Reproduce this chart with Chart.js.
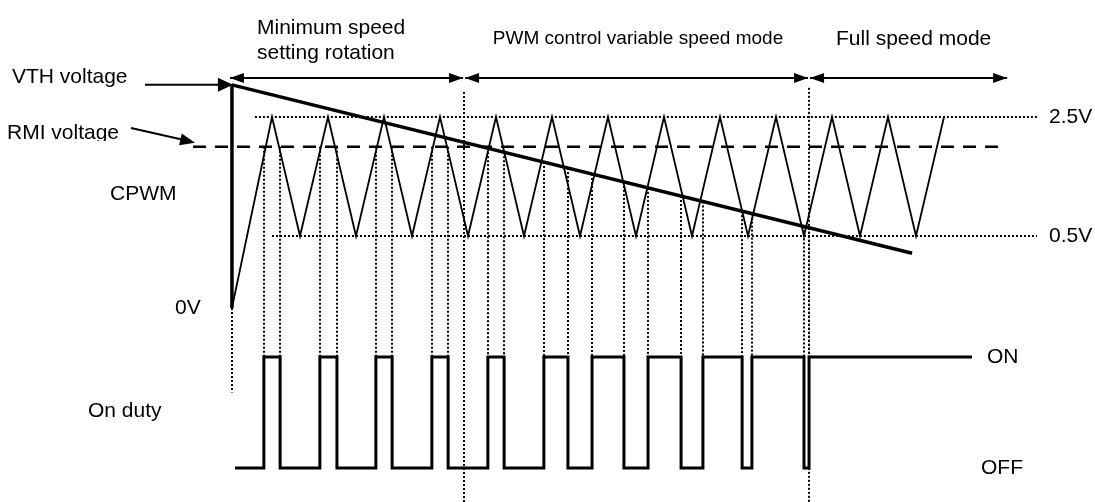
<!DOCTYPE html>
<html>
<head>
<meta charset="utf-8">
<script src="https://cdn.jsdelivr.net/npm/chart.js@4.4.0/dist/chart.umd.min.js"></script>
<style>
  body { margin: 0; background: #fff; }
  #wrap { width: 1095px; height: 502px; }
</style>
</head>
<body>
<div id="wrap"><canvas id="timing" width="1095" height="502"></canvas></div>
<script>
// time unit = half a CPWM period, t = 0 at the first valley
const cpwmTimes = [-2.43, -1, 0, 1, 2, 3, 4, 5, 6, 7, 8, 9, 10, 11, 12, 13, 14, 15, 16, 17, 18, 19, 20, 21, 22, 23];
const cpwmVolts = [-0.71, 2.5, 0.5, 2.5, 0.5, 2.5, 0.5, 2.5, 0.5, 2.5, 0.5, 2.5, 0.5, 2.5, 0.5, 2.5, 0.5, 2.5, 0.5, 2.5, 0.5, 2.5, 0.5, 2.5, 0.5, 2.5];

const vthTimes = [-2.43, 21.86];
const vthVolts = [3.04, 0.21];

const rmiTimes = [-3.82, 25.25];
const rmiVolt = 2.0;

const highRefTimes = [-1.61, 26.32];   // 2.5V dotted
const lowRefTimes = [-1, 26.32];       // 0.5V dotted

const dutyTimes = [-2.32, -1.29, -0.71, 0.71, 1.32, 2.71, 3.29, 4.71, 5.29, 6.71, 7.29, 8.71, 9.57, 10.43, 11.57, 12.43, 13.61, 14.39, 15.79, 16.14, 18.0, 18.18, 24.0];
const dutyLevels = [0, 1, 0, 1, 0, 1, 0, 1, 0, 1, 0, 1, 0, 1, 0, 1, 0, 1, 0, 1, 0, 1, 1];

const regionEdges = [-2.43, 5.86, 18.18, 25.29];
const regionTop = [2.92, 2.99];   // volts where the region dividers start

const pts = (xs, ys) => xs.map((x, i) => ({ x: x, y: Array.isArray(ys) ? ys[i] : ys }));

const vthAt = (t) => {
  const k = (t - vthTimes[0]) / (vthTimes[1] - vthTimes[0]);
  return vthVolts[0] + k * (vthVolts[1] - vthVolts[0]);
};

function arrowHead(ctx, tipX, tipY, fromX, fromY, len, half) {
  const d = Math.hypot(tipX - fromX, tipY - fromY);
  const ux = (tipX - fromX) / d, uy = (tipY - fromY) / d;
  ctx.beginPath();
  ctx.moveTo(tipX, tipY);
  ctx.lineTo(tipX - ux * len - uy * half, tipY - uy * len + ux * half);
  ctx.lineTo(tipX - ux * len + uy * half, tipY - uy * len - ux * half);
  ctx.closePath();
  ctx.fill();
}

function arrowLine(ctx, x1, y1, x2, y2, both) {
  ctx.beginPath();
  ctx.moveTo(x1, y1);
  ctx.lineTo(x2, y2);
  ctx.stroke();
  arrowHead(ctx, x2, y2, x1, y1, 14, 5);
  if (both) arrowHead(ctx, x1, y1, x2, y2, 14, 5);
}

const annotations = {
  id: 'annotations',
  afterDatasetsDraw(chart) {
    const { ctx, scales } = chart;
    const x = scales.x, yV = scales.yV, yD = scales.yD;
    ctx.save();
    ctx.strokeStyle = '#000';
    ctx.fillStyle = '#000';

    // dotted guides from the comparison point down to the ON level
    ctx.lineWidth = 2;
    ctx.setLineDash([2, 2]);
    for (let i = 1; i < dutyTimes.length - 1; i++) {
      const t = dutyTimes[i];
      const v = Math.min(rmiVolt, vthAt(t));
      const px = Math.round(x.getPixelForValue(t));
      ctx.beginPath();
      ctx.moveTo(px, yV.getPixelForValue(v));
      ctx.lineTo(px, yD.getPixelForValue(1));
      ctx.stroke();
    }
    // start marker
    let sx = Math.round(x.getPixelForValue(cpwmTimes[0]));
    ctx.beginPath();
    ctx.moveTo(sx, yV.getPixelForValue(cpwmVolts[0]));
    ctx.lineTo(sx, yD.getPixelForValue(0.68));
    ctx.stroke();
    // region dividers
    [1, 2].forEach((k, j) => {
      const px = Math.round(x.getPixelForValue(regionEdges[k]));
      ctx.beginPath();
      ctx.moveTo(px, yV.getPixelForValue(regionTop[j]));
      ctx.lineTo(px, chart.chartArea.bottom);
      ctx.stroke();
    });
    ctx.setLineDash([]);

    // region arrows
    const rowY = 78;
    ctx.lineWidth = 2;
    for (let i = 0; i < 3; i++) {
      const a = x.getPixelForValue(regionEdges[i]) + (i ? 1 : -2);
      const b = x.getPixelForValue(regionEdges[i + 1]) - 1;
      arrowLine(ctx, a, rowY, b, rowY, true);
    }

    // pointers for VTH / RMI
    ctx.lineWidth = 2;
    const vx = x.getPixelForValue(vthTimes[0]) + 1, vy = yV.getPixelForValue(vthVolts[0]);
    ctx.beginPath(); ctx.moveTo(145, vy); ctx.lineTo(vx - 10, vy); ctx.stroke();
    arrowHead(ctx, vx, vy, 145, vy, 15, 7);
    const rx = x.getPixelForValue(rmiTimes[0]) + 2, ry = yV.getPixelForValue(rmiVolt) - 4;
    ctx.beginPath(); ctx.moveTo(131, 128); ctx.lineTo(rx - 12, ry - 3); ctx.stroke();
    arrowHead(ctx, rx, ry, 131, 128, 15, 6);

    // text
    ctx.textBaseline = 'middle';
    ctx.textAlign = 'left';
    ctx.font = '21px "Liberation Sans", Arial, sans-serif';
    ctx.fillText('Minimum speed', 257, 28);
    ctx.fillText('setting rotation', 257, 53);
    ctx.fillText('Full speed mode', 836, 39);
    ctx.fillText('VTH voltage', 12, 77);
    ctx.fillText('CPWM', 110, 194);
    ctx.fillText('0V', 175, yV.getPixelForValue(cpwmVolts[0]));
    ctx.fillText('On duty', 88, 411);
    ctx.fillText('ON', 987, yD.getPixelForValue(1));
    ctx.fillText('OFF', 981, yD.getPixelForValue(0));
    ctx.fillText('2.5V', 1049, yV.getPixelForValue(2.5));
    ctx.fillText('0.5V', 1049, yV.getPixelForValue(0.5));
    ctx.save();
    ctx.beginPath(); ctx.rect(0, 100, 180, 41); ctx.clip();
    ctx.fillText('RMI voltage', 7, 133);
    ctx.restore();
    ctx.font = '19px "Liberation Sans", Arial, sans-serif';
    ctx.textAlign = 'center';
    ctx.fillText('PWM control variable speed mode', 638, 39);
    ctx.restore();
  }
};

const line = (data, extra) => Object.assign({
  data: data,
  showLine: true,
  borderColor: '#000',
  backgroundColor: '#000',
  borderWidth: 1.8,
  pointRadius: 0,
  tension: 0,
  fill: false,
  yAxisID: 'yV',
  borderJoinStyle: 'miter'
}, extra);

new Chart(document.getElementById('timing'), {
  type: 'scatter',
  data: {
    datasets: [
      line(pts(vthTimes, vthVolts), { label: 'VTH', borderWidth: 3.5 }),
      line(pts([cpwmTimes[0], cpwmTimes[0]], [vthVolts[0], cpwmVolts[0]]), { label: 'start', borderWidth: 3.5 }),
      line(pts(cpwmTimes, cpwmVolts), { label: 'CPWM' }),
      line(pts(rmiTimes, rmiVolt), { label: 'RMI', borderWidth: 2.5, borderDash: [13, 9] }),
      line(pts(highRefTimes, 2.5), { label: '2.5V', borderWidth: 2, borderDash: [2, 2] }),
      line(pts(lowRefTimes, 0.5), { label: '0.5V', borderWidth: 2, borderDash: [2, 2] }),
      line(pts(dutyTimes, dutyLevels), { label: 'On duty', yAxisID: 'yD', borderWidth: 3, stepped: true })
    ]
  },
  options: {
    responsive: false,
    animation: false,
    layout: { padding: 0 },
    plugins: { legend: { display: false }, tooltip: { enabled: false } },
    scales: {
      x: { type: 'linear', display: false, min: -10.714, max: 28.393 },
      yV: { type: 'linear', display: false, min: -3.971, max: 4.466 },
      yD: { type: 'linear', display: false, min: -0.306, max: 4.216 }
    }
  },
  plugins: [annotations]
});
</script>
</body>
</html>
